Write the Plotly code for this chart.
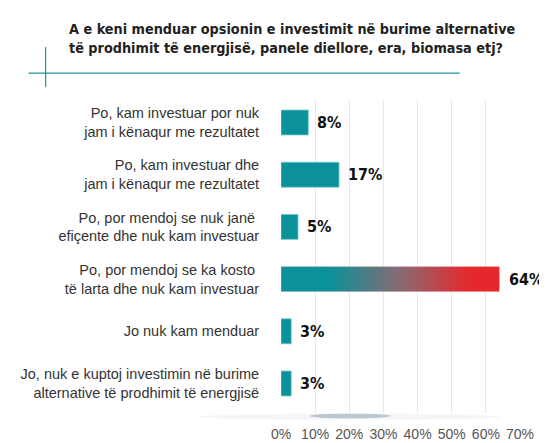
import plotly.graph_objects as go

title_lines = ["A e keni menduar opsionin e investimit në burime alternative",
               "të prodhimit të energjisë, panele diellore, era, biomasa etj?"]
categories = [
    "Po, kam investuar por nuk<br>jam i kënaqur me rezultatet",
    "Po, kam investuar dhe<br>jam i kënaqur me rezultatet",
    "Po, por mendoj se nuk janë <br>efiçente dhe nuk kam investuar",
    "Po, por mendoj se ka kosto <br>të larta dhe nuk kam investuar",
    "Jo nuk kam menduar",
    "Jo, nuk e kuptoj investimin në burime<br>alternative të prodhimit të energjisë",
]
values = [8, 17, 5, 64, 3, 3]
value_labels = ["8%", "17%", "5%", "64%", "3%", "3%"]
tick_vals = [0, 10, 20, 30, 40, 50, 60, 70]
tick_text = ["0%", "10%", "20%", "30%", "40%", "50%", "60%", "70%"]

TEAL = "#0a9199"
RED = "#e5282c"
BAR_W = 0.48
COND = "DejaVu Sans Condensed, Liberation Sans, sans-serif"
REG = "Liberation Sans, Arial, sans-serif"

pos = list(range(len(categories)))
top_i = values.index(max(values))

fig = go.Figure()
fig.add_trace(go.Bar(
    x=[v if i != top_i else 0 for i, v in enumerate(values)], y=pos, orientation="h",
    width=BAR_W, marker=dict(color=TEAL, line=dict(color="#7fd0d3", width=0.8)),
    hoverinfo="skip", showlegend=False,
))

# gradient bar for the largest value
v = values[top_i]
y0, y1 = top_i - BAR_W / 2, top_i + BAR_W / 2
fig.add_trace(go.Scatter(
    x=[0, v, v, 0, 0], y=[y0, y0, y1, y1, y0], mode="lines",
    fill="toself", line=dict(width=0.8, color="rgba(240,200,200,0.6)"),
    fillgradient=dict(type="horizontal",
                      colorscale=[[0, TEAL], [0.22, TEAL], [0.55, "#8a6a72"], [0.86, RED], [1, RED]]),
    hoverinfo="skip", showlegend=False,
))

for i, (val, lab) in enumerate(zip(values, value_labels)):
    fig.add_annotation(x=val, y=i, text=f"<b>{lab}</b>", showarrow=False,
                       xanchor="left", xshift=7,
                       font=dict(family=COND, size=16, color="#111"))

fig.add_annotation(xref="paper", yref="paper", x=-0.894, y=1.26, xanchor="left", yanchor="top",
                   text="<b>" + "<br>".join(title_lines) + "</b>", showarrow=False, align="left",
                   font=dict(family=COND, size=14.3, color="#222"))

# decorative cross lines
fig.add_shape(type="line", xref="paper", yref="paper", x0=-1.056, x1=0.748, y0=1.086, y1=1.086,
              line=dict(color="#1a9aa0", width=1.2))
fig.add_shape(type="line", xref="paper", yref="paper", x0=-0.985, x1=-0.985, y0=1.169, y1=1.042,
              line=dict(color="#1a9aa0", width=1.2))

# soft shadow below chart
fig.add_shape(type="circle", xref="paper", yref="paper", x0=-0.35, x1=0.92, y0=-0.002, y1=-0.022,
              fillcolor="rgba(140,165,195,0.10)", line=dict(width=0), layer="below")
fig.add_shape(type="circle", xref="paper", yref="paper", x0=0.12, x1=0.46, y0=-0.002, y1=-0.017,
              fillcolor="rgba(70,85,105,0.30)", line=dict(width=0), layer="below")

fig.update_layout(
    width=539, height=435,
    margin=dict(l=272.5, r=26.5, t=92, b=30),
    paper_bgcolor="white", plot_bgcolor="white",
    xaxis=dict(range=[0, 70], tickvals=tick_vals, ticktext=tick_text, automargin=False,
               showgrid=True, gridcolor="#e8e8e8", gridwidth=1, zeroline=False,
               ticks="outside", ticklen=8, tickcolor="rgba(0,0,0,0)",
               tickfont=dict(family=REG, size=14, color="#555"), fixedrange=True),
    yaxis=dict(range=[5.565, -0.431], tickvals=pos, ticktext=categories, automargin=False,
               showgrid=False, zeroline=False, ticks="outside", ticklen=18,
               tickcolor="rgba(0,0,0,0)",
               tickfont=dict(family=REG, size=14.5, color="#333")),
    bargap=0.5,
)

fig.write_html("out.html")
